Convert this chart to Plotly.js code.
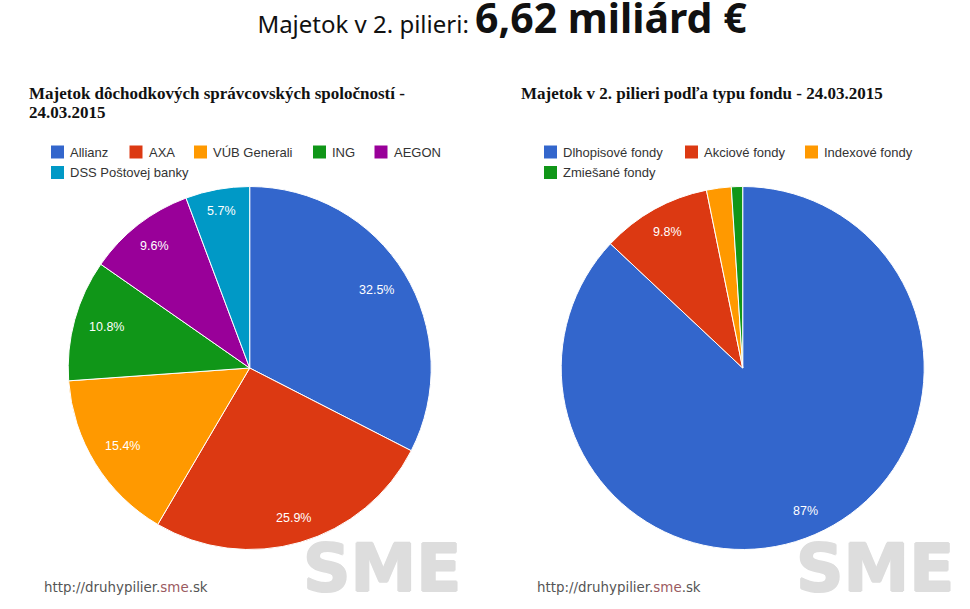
<!DOCTYPE html>
<html><head><meta charset="utf-8">
<script src="https://cdn.plot.ly/plotly-3.0.1.min.js"></script>
<style>html,body{margin:0;padding:0;background:#fff}</style></head>
<body><div id="c" style="width:970px;height:609px"></div>
<script>
const W=970,H=609;
const companies=['Allianz','AXA','VÚB Generali','ING','AEGON','DSS Poštovej banky'];
const companyShares=[32.5,25.9,15.4,10.8,9.6,5.7];
const companyText=['32.5%','25.9%','15.4%','10.8%','9.6%','5.7%'];
const companyTextPos=[[376,290],[293,518],[122,446],[106,327],[154,246],[221,211]];
const fundTypes=['Dlhopisové fondy','Akciové fondy','Indexové fondy','Zmiešané fondy'];
const fundShares=[87,9.8,2.2,1.0];
const fundText=['87%','9.8%'];
const fundTextPos=[[805,511],[667,232]];
const colors=['#3366cc','#dc3912','#ff9900','#109618','#990099','#0099c6'];
const legendLeft=[[51,152],[129.5,152],[194,152],[313,152],[374.5,152],[51,172.5]];
const legendRight=[[544,152],[685,152],[805,152],[544,172.5]];
function dom(cx,cy,r){return {x:[(cx-r)/W,(cx+r)/W],y:[1-(cy+r)/H,1-(cy-r)/H]};}
function pie(labels,values,d){return {type:'pie',labels,values,textinfo:'none',sort:false,direction:'clockwise',rotation:0,
 domain:d,marker:{colors,line:{color:'#fff',width:1}},hoverinfo:'label+percent'};}
const shapes=[],ann=[];
function px(x){return x/W} function py(y){return 1-y/H}
function txt(x,y,t,font,anchor){ann.push({xref:'paper',yref:'paper',x:px(x),y:py(y),xanchor:anchor||'left',yanchor:'middle',align:'left',showarrow:false,text:t,font});}
function legend(labels,pos){labels.forEach((l,i)=>{const [x,y]=pos[i];
 shapes.push({type:'rect',xref:'paper',yref:'paper',x0:px(x),x1:px(x+13),y0:py(y-6.5),y1:py(y+6.5),fillcolor:colors[i],line:{width:0}});
 txt(x+17,y,l,{family:'Liberation Sans',size:13,color:'#333'});
});}
legend(companies,legendLeft);legend(fundTypes,legendRight);
const lf={family:'Liberation Sans',size:12.5,color:'#fff'};
companyText.forEach((t,i)=>txt(companyTextPos[i][0],companyTextPos[i][1],t,lf,'center'));
fundText.forEach((t,i)=>txt(fundTextPos[i][0],fundTextPos[i][1],t,lf,'center'));
const hf={family:'Liberation Serif',size:17,color:'#111'};
txt(27,93,'<b>Majetok dôchodkových správcovských spoločností -</b>',hf);
txt(27,112,'<b>24.03.2015</b>',hf);
txt(519,93,'<b>Majetok v 2. pilieri podľa typu fondu - 24.03.2015</b>',hf);
const ff={family:'DejaVu Sans',size:13.4,color:'#555'};
const foot='http://druhypilier.<span style="color:#9a5a60">sme</span>.sk';
txt(42,587,foot,ff);txt(535,587,foot,ff);
const ws='#dddddd';
const wm={family:'DejaVu Sans',size:66,color:ws,shadow:`1px 0 ${ws}, -1px 0 ${ws}, 0 1px ${ws}, 0 -1px ${ws}`};
txt(382,568,'<b>SME</b>',wm,'center');txt(875,568,'<b>SME</b>',wm,'center');
const layout={width:W,height:H,margin:{l:0,r:0,t:0,b:0},paper_bgcolor:'#fff',showlegend:false,
 title:{text:'Majetok v 2. pilieri: <span style="font-size:41px;font-weight:bold">6,62 miliárd €</span>',
  x:502/W,xanchor:'center',xref:'paper',y:1-25/H,yanchor:'middle',font:{family:'Noto Sans',size:24,color:'#111'}},
 shapes,annotations:ann};
Plotly.newPlot('c',[pie(companies,companyShares,dom(249.7,368,181.5)),pie(fundTypes,fundShares,dom(742.7,368,181.5))],layout,{displayModeBar:false,staticPlot:true});
</script></body></html>
